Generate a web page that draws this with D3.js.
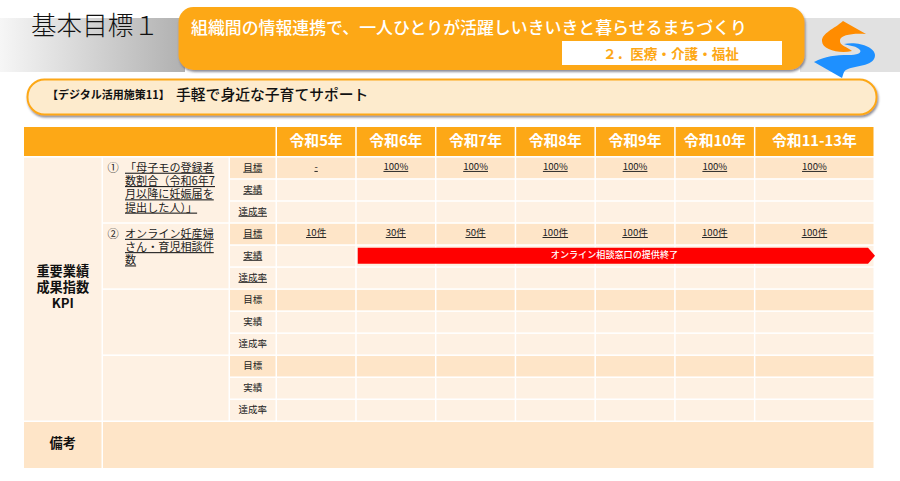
<!DOCTYPE html>
<html lang="ja">
<head>
<meta charset="utf-8">
<script src="https://d3js.org/d3.v7.min.js"></script>
<style>
  html, body { margin: 0; padding: 0; background: #fff; }
  svg { display: block; }
  text { font-family: "Noto Sans CJK JP", "Noto Sans", sans-serif; }
</style>
</head>
<body>
<div id="chart"></div>
<script>
const years = ["令和5年", "令和6年", "令和7年", "令和8年", "令和9年", "令和10年", "令和11-13年"];
const yearSpans = [1, 1, 1, 1, 1, 1, 1.5];
const rowLabels = ["目標", "実績", "達成率"];

const kpiNames = [
  ["「母子モの登録者", "数割合（令和6年7", "月以降に妊娠届を", "提出した人）」"],
  ["オンライン妊産婦", "さん・育児相談件", "数"],
  [],
  []
];
const kpiMarks = ["①", "②", "", ""];
const target1 = ["-", "100%", "100%", "100%", "100%", "100%", "100%"];
const target2 = ["10件", "30件", "50件", "100件", "100件", "100件", "100件"];
const targets = [target1, target2, [], []];

const endedLabel = "オンライン相談窓口の提供終了";
const endedFrom = 1; // 令和6年 onward
const groupLabel = ["重要業績", "成果指数", "KPI"];
const noteLabel = "備考";

const titleText = "基本目標１";
const goalText = "組織間の情報連携で、一人ひとりが活躍しいきいきと暮らせるまちづくり";
const fieldText = "２．医療・介護・福祉";
const measureTag = "【デジタル活用施策11】";
const measureText = "手軽で身近な子育てサポート";

const width = 900, height = 481;
const orange = "#fda816", dark = "#fee5c8", light = "#fef1e3";

const svg = d3.select("#chart").append("svg")
  .attr("width", width)
  .attr("height", height);

const defs = svg.append("defs");
const grad = defs.append("linearGradient").attr("id", "band");
grad.append("stop").attr("offset", "0%").attr("stop-color", "#f6f6f6");
grad.append("stop").attr("offset", "100%").attr("stop-color", "#b0b0b0");
const shadow = defs.append("filter").attr("id", "shadow")
  .attr("x", "-5%").attr("y", "-20%").attr("width", "110%").attr("height", "150%");
shadow.append("feDropShadow")
  .attr("dx", 1).attr("dy", 2).attr("stdDeviation", 1.2)
  .attr("flood-color", "#445").attr("flood-opacity", 0.6);

// header band
svg.append("rect").attr("x", 0).attr("y", 18).attr("width", 185).attr("height", 54).attr("fill", "url(#band)");
svg.append("rect").attr("x", 800).attr("y", 18).attr("width", 100).attr("height", 54).attr("fill", "#e1e1e1");

svg.append("text").attr("x", 31).attr("y", 34.5)
  .attr("font-size", 25.6).attr("font-weight", 300).attr("fill", "#111")
  .text(titleText);

svg.append("rect")
  .attr("x", 178.5).attr("y", 7).attr("width", 626).attr("height", 63).attr("rx", 15)
  .attr("fill", orange).attr("filter", "url(#shadow)");
svg.append("text").attr("x", 191).attr("y", 34)
  .attr("font-size", 16.9).attr("font-weight", 500).attr("fill", "#fff")
  .text(goalText);
svg.append("rect")
  .attr("x", 562).attr("y", 41).attr("width", 220).attr("height", 24)
  .attr("fill", "#fff");
svg.append("text").attr("x", 603).attr("y", 59)
  .attr("font-size", 13.6).attr("font-weight", 700).attr("fill", orange)
  .text(fieldText);

// logo
const logo = svg.append("g");
logo.append("path")
  .attr("d", "M843,21 L866,34 C852,33 841,35 840,40 C839,46 848,47 852,51 C840,54 822,50 822,41 C822,33 834,29 843,21Z")
  .attr("fill", "#ff8c00");
logo.append("path")
  .attr("d", "M844,44 C858,41 875,47 875,55 C875,66 858,65 848,69 C843,71 844,73 842,78 L814,62 C825,56 836,55 848,55 C857,55 862,53 860,50 C857,46 850,46 844,44Z")
  .attr("fill", "#1e90ff");

// measure title
svg.append("rect")
  .attr("x", 27.5).attr("y", 79.5).attr("width", 849).attr("height", 35).attr("rx", 17)
  .attr("fill", "#fdebcd").attr("stroke", orange).attr("stroke-width", 2)
  .attr("filter", "url(#shadow)");
svg.append("text").attr("x", 47).attr("y", 98.5)
  .attr("font-size", 11).attr("font-weight", 700).attr("fill", "#111")
  .text(measureTag);
svg.append("text").attr("x", 176).attr("y", 100)
  .attr("font-size", 14.8).attr("font-weight", 500).attr("fill", "#111")
  .text(measureText);

// table scales
const rowCount = kpiNames.length * rowLabels.length;
const y = d3.scaleBand()
  .domain(d3.range(rowCount))
  .range([157.7, 420.5])
  .paddingInner(0.07);

const cumulative = d3.cumsum([0].concat(yearSpans));
const x = d3.scaleLinear()
  .domain([0, d3.sum(yearSpans)])
  .range([277, 875]);
const colX = i => x(cumulative[i]);
const colW = i => x(cumulative[i + 1]) - x(cumulative[i]) - 1.5;

const cols = { group: 24, kpi: 103, label: 230 };
const groupW = cols.kpi - cols.group - 1.5;
const kpiW = cols.label - cols.kpi - 1.5;
const labelW = x(0) - cols.label - 1.5;
const table = svg.append("g");

// header row
table.append("rect")
  .attr("x", cols.group).attr("y", 127).attr("width", x(0) - cols.group - 1.5).attr("height", 29)
  .attr("fill", orange);
const head = table.selectAll(".year").data(years).enter().append("g").attr("class", "year");
head.append("rect")
  .attr("x", (d, i) => colX(i)).attr("y", 127)
  .attr("width", (d, i) => colW(i)).attr("height", 29)
  .attr("fill", orange);
head.append("text")
  .attr("x", (d, i) => colX(i) + colW(i) / 2).attr("y", 145.5)
  .attr("text-anchor", "middle")
  .attr("font-size", 14.8).attr("font-weight", 700).attr("fill", "#fff")
  .text(d => d);

// group column
table.append("rect")
  .attr("x", cols.group).attr("y", y(0))
  .attr("width", groupW).attr("height", y(rowCount - 1) + y.bandwidth() - y(0))
  .attr("fill", light);
table.selectAll(".group-label").data(groupLabel).enter().append("text")
  .attr("class", "group-label")
  .attr("x", cols.group + groupW / 2)
  .attr("y", (d, i) => 276 + i * 16)
  .attr("text-anchor", "middle")
  .attr("font-size", 13.2).attr("font-weight", 700).attr("fill", "#111")
  .text(d => d);

// KPI name column
const kpi = table.selectAll(".kpi").data(kpiNames).enter().append("g").attr("class", "kpi");
kpi.append("rect")
  .attr("x", cols.kpi)
  .attr("y", (d, i) => y(i * 3))
  .attr("width", kpiW)
  .attr("height", (d, i) => y(i * 3 + 2) + y.bandwidth() - y(i * 3))
  .attr("fill", light);
kpi.append("text")
  .attr("x", 113).attr("y", (d, i) => y(i * 3) + 14)
  .attr("text-anchor", "middle")
  .attr("font-size", 11.2).attr("fill", "#222")
  .text((d, i) => kpiMarks[i]);
kpi.each(function (lines, k) {
  d3.select(this).selectAll(".line").data(lines).enter().append("text")
    .attr("class", "line")
    .attr("x", 125)
    .attr("y", (d, i) => y(k * 3) + 14 + i * 13.3)
    .attr("font-size", 11.1).attr("fill", "#222")
    .attr("text-decoration", "underline")
    .text(d => d);
});

// rows: label cell plus one cell per year
const rows = table.selectAll(".row").data(d3.range(rowCount)).enter().append("g").attr("class", "row");
const rowFill = r => (r % 3 === 0 ? dark : light);

rows.append("rect")
  .attr("x", cols.label).attr("y", r => y(r))
  .attr("width", labelW).attr("height", y.bandwidth())
  .attr("fill", rowFill);
rows.append("text")
  .attr("x", cols.label + labelW / 2)
  .attr("y", r => y(r) + y.bandwidth() / 2 + 2.8)
  .attr("text-anchor", "middle")
  .attr("font-size", 9.5).attr("fill", "#222")
  .attr("text-decoration", r => (r < 6 ? "underline" : null))
  .text(r => rowLabels[r % 3]);

rows.selectAll(".cell").data(r => years.map((d, i) => ({ r, i }))).enter().append("rect")
  .attr("class", "cell")
  .attr("x", d => colX(d.i)).attr("y", d => y(d.r))
  .attr("width", d => colW(d.i)).attr("height", y.bandwidth())
  .attr("fill", d => rowFill(d.r));

// target values
targets.forEach((values, k) => {
  table.selectAll(".target" + k).data(values).enter().append("text")
    .attr("class", "target" + k)
    .attr("x", (d, i) => colX(i) + colW(i) / 2)
    .attr("y", y(k * 3) + y.bandwidth() / 2 + 2)
    .attr("text-anchor", "middle")
    .attr("font-size", 9.6).attr("fill", "#222")
    .attr("text-decoration", "underline")
    .text(d => d);
});

// ended arrow on the 実績 row of KPI 2
const barX0 = colX(endedFrom) + 1;
const barX1 = x(d3.sum(yearSpans));
const barY0 = y(4) + 2;
const barY1 = y(4) + y.bandwidth() - 2.5;
table.append("path")
  .attr("d", d3.line()([
    [barX0, barY0], [barX1 - 7, barY0], [barX1, (barY0 + barY1) / 2],
    [barX1 - 7, barY1], [barX0, barY1]
  ]) + "Z")
  .attr("fill", "#ff0000");
table.append("text")
  .attr("x", 614.5).attr("y", (barY0 + barY1) / 2 + 2.5)
  .attr("text-anchor", "middle")
  .attr("font-size", 9.1).attr("font-weight", 500).attr("fill", "#fff")
  .text(endedLabel);

// remarks row
table.append("rect")
  .attr("x", cols.group).attr("y", 422).attr("width", groupW).attr("height", 46)
  .attr("fill", dark);
table.append("rect")
  .attr("x", cols.kpi).attr("y", 422).attr("width", x(d3.sum(yearSpans)) - cols.kpi - 1.5).attr("height", 46)
  .attr("fill", dark);
table.append("text")
  .attr("x", cols.group + groupW / 2).attr("y", 448)
  .attr("text-anchor", "middle")
  .attr("font-size", 13.2).attr("font-weight", 700).attr("fill", "#111")
  .text(noteLabel);
</script>
</body>
</html>
